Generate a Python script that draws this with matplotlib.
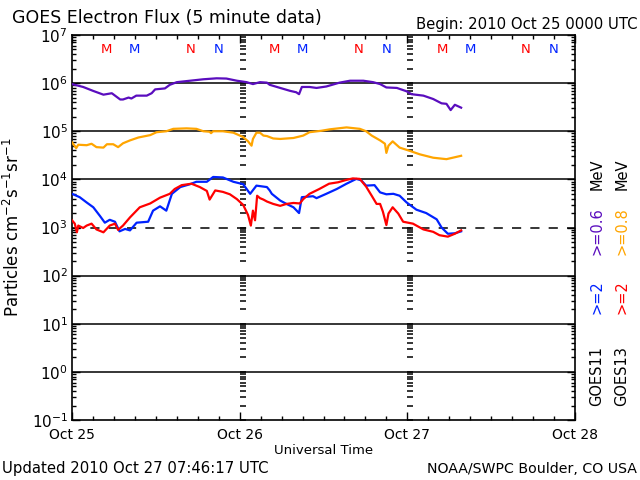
import numpy as np
import matplotlib
matplotlib.use("Agg")
import matplotlib.pyplot as plt
from matplotlib.ticker import LogLocator, FixedLocator, NullFormatter

# hours since 2010 Oct 25 00:00 UT, values are log10 of the flux
purple_h = [0, 1.6, 3.0, 4.5, 5.7, 6.9, 7.3, 8.1, 8.5, 9.2, 10.7, 11.4, 11.9, 13.3, 14.0, 15.0,
            16.9, 18.8, 20.7, 22.1, 23.6, 25.0, 25.9, 26.9, 27.9, 28.3, 29.8, 31.2, 32.1, 32.5,
            32.9, 34.0, 35.0, 36.4, 38.3, 39.8, 41.7, 43.1, 44.1, 45.0, 46.5, 47.9, 48.6, 50.3,
            51.7, 52.9, 53.6, 54.2, 54.8, 55.7]
purple_log = [5.98, 5.92, 5.84, 5.76, 5.79, 5.66, 5.66, 5.70, 5.68, 5.74, 5.74, 5.79, 5.87, 5.89,
              5.965, 6.02, 6.05, 6.08, 6.10, 6.095, 6.05, 6.02, 5.98, 6.02, 6.01, 5.965, 5.90,
              5.84, 5.81, 5.77, 5.92, 5.92, 5.90, 5.93, 6.01, 6.05, 6.05, 6.02, 5.98, 5.91, 5.90,
              5.83, 5.77, 5.74, 5.67, 5.58, 5.57, 5.44, 5.55, 5.49]

orange_h = [0, 0.6, 0.9, 2.1, 2.8, 3.5, 4.5, 5.0, 5.9, 6.6, 7.3, 8.3, 9.5, 11.2, 12.1, 13.5, 14.5,
            16.4, 17.8, 18.8, 19.7, 19.9, 20.2, 21.6, 23.1, 24.5, 25.2, 25.7, 25.9, 26.4, 26.9,
            27.4, 27.9, 28.8, 29.8, 31.7, 33.1, 34.0, 35.7, 36.9, 39.3, 41.2, 42.1, 42.9, 44.1,
            44.8, 45.0, 45.3, 45.9, 46.9, 48.4, 49.8, 51.7, 53.6, 54.5, 55.7]
orange_log = [4.77, 4.65, 4.72, 4.71, 4.74, 4.67, 4.66, 4.73, 4.73, 4.67, 4.75, 4.81, 4.87, 4.92,
              4.98, 5.00, 5.05, 5.06, 5.05, 5.00, 4.99, 4.96, 5.00, 5.00, 4.97, 4.88, 4.79, 4.70,
              4.84, 4.97, 4.97, 4.91, 4.90, 4.85, 4.84, 4.86, 4.91, 4.98, 5.01, 5.04, 5.08, 5.05,
              5.00, 4.91, 4.81, 4.74, 4.55, 4.70, 4.79, 4.66, 4.59, 4.52, 4.45, 4.42, 4.45, 4.49]

blue_h = [0, 1.1, 2.1, 3.05, 4.0, 4.7, 5.4, 6.15, 6.8, 7.6, 8.3, 9.25, 10.9, 11.6, 12.6, 13.5,
          14.3, 15.5, 16.9, 17.8, 19.3, 20.2, 21.6, 23.1, 24.5, 25.5, 26.4, 27.9, 28.3, 28.6,
          29.8, 30.7, 31.7, 32.5, 32.9, 34.5, 35.0, 36.4, 37.9, 39.3, 40.7, 41.4, 42.1, 43.3,
          44.1, 45.0, 46.0, 46.9, 47.9, 49.3, 50.7, 52.2, 52.9, 53.8, 54.8, 55.7]
blue_log = [3.70, 3.63, 3.52, 3.42, 3.24, 3.10, 3.16, 3.12, 2.92, 2.97, 2.94, 3.10, 3.12, 3.35,
            3.44, 3.35, 3.70, 3.84, 3.90, 3.95, 3.95, 4.05, 4.04, 3.95, 3.90, 3.70, 3.87, 3.84,
            3.77, 3.70, 3.56, 3.49, 3.42, 3.30, 3.63, 3.65, 3.61, 3.70, 3.80, 3.91, 4.01, 3.98,
            3.87, 3.88, 3.73, 3.69, 3.70, 3.66, 3.52, 3.37, 3.30, 3.17, 3.00, 2.87, 2.88, 2.92]

red_h = [0, 0.4, 0.7, 0.9, 1.6, 2.1, 2.8, 3.5, 4.5, 5.4, 6.15, 6.6, 7.3, 8.3, 9.7, 11.2, 12.6,
         14.0, 14.7, 15.7, 17.1, 18.3, 19.3, 19.7, 20.5, 21.6, 22.6, 23.6, 24.5, 25.2, 25.6,
         25.9, 26.2, 26.5, 26.9, 27.4, 27.9, 28.8, 29.8, 30.7, 31.7, 32.6, 33.1, 34.0, 35.4,
         36.8, 38.1, 39.3, 40.2, 41.2, 42.1, 42.9, 43.6, 44.1, 44.5, 45.0, 45.3, 45.9, 46.7,
         47.4, 48.8, 50.3, 51.7, 52.6, 53.8, 54.8, 55.7]
red_log = [3.15, 3.08, 2.90, 3.04, 2.99, 3.04, 3.08, 2.96, 2.90, 3.04, 3.08, 2.95, 3.04, 3.21,
           3.42, 3.50, 3.62, 3.70, 3.80, 3.88, 3.91, 3.84, 3.76, 3.58, 3.77, 3.74, 3.69, 3.59,
           3.47, 3.26, 3.04, 3.35, 3.15, 3.66, 3.61, 3.58, 3.54, 3.49, 3.45, 3.49, 3.51, 3.50,
           3.59, 3.70, 3.80, 3.91, 3.94, 3.99, 4.02, 4.01, 3.85, 3.66, 3.49, 3.49, 3.33, 3.05,
           3.29, 3.42, 3.29, 3.12, 3.08, 2.96, 2.91, 2.84, 2.81, 2.87, 2.94]

day_labels = ["Oct 25", "Oct 26", "Oct 27", "Oct 28"]
# local midnight (M) and noon (N) for GOES13 (red) and GOES11 (blue), UT hours
m13_hours = [5, 29, 53]
m11_hours = [9, 33, 57]
n13_hours = [17, 41, 65]
n11_hours = [21, 45, 69]

PURPLE = "#5a0dbe"
ORANGE = "#ffa500"
BLUE = "#0022ff"
RED = "#ff0000"

plt.rcParams["font.family"] = "DejaVu Sans"

fig = plt.figure(figsize=(6.4, 4.8), dpi=100)
ax = fig.add_axes([72 / 640, 1 - 420 / 480, (575 - 72) / 640, (420 - 35) / 480])

ax.set_yscale("log")
ax.set_xlim(0, 72)
ax.set_ylim(1e-1, 1e7)

# decade lines, 10^3 dashed
for p in [0, 1, 2, 4, 5, 6]:
    ax.axhline(10.0 ** p, color="k", lw=1.1, zorder=1)
ax.axhline(1e3, color="k", lw=1.1, ls=(0, (6, 6)), zorder=1)

# log tick marks inside the plot at each day boundary
minor_vals = [m * 10.0 ** p for p in range(-1, 7) for m in range(1, 10)]
for d in [24, 48]:
    ax.plot([d + 0.45] * len(minor_vals), minor_vals, ls="none", marker="_",
            ms=5, mew=1.1, color="k", zorder=2)

ax.plot(purple_h, 10 ** np.array(purple_log), color=PURPLE, lw=1.6, zorder=3)
ax.plot(orange_h, 10 ** np.array(orange_log), color=ORANGE, lw=1.6, zorder=3)
ax.plot(blue_h, 10 ** np.array(blue_log), color=BLUE, lw=1.6, zorder=3)
ax.plot(red_h, 10 ** np.array(red_log), color=RED, lw=1.6, zorder=4)

# M / N markers
for hrs, lab, col in [(m13_hours, "M", RED), (m11_hours, "M", BLUE),
                      (n13_hours, "N", RED), (n11_hours, "N", BLUE)]:
    for h in hrs:
        ax.text(h, 0.962, lab, color=col, fontsize=9.5, ha="center", va="center",
                transform=ax.get_xaxis_transform())

# axes ticks
ax.xaxis.set_major_locator(FixedLocator([0, 24, 48, 72]))
ax.xaxis.set_minor_locator(FixedLocator(np.arange(0, 73, 3)))
ax.set_xticklabels(day_labels, fontsize=10)
ax.yaxis.set_major_locator(LogLocator(base=10, numticks=20))
ax.yaxis.set_minor_locator(LogLocator(base=10, subs=np.arange(2, 10), numticks=20))
ax.yaxis.set_minor_formatter(NullFormatter())
ax.tick_params(axis="both", which="both", direction="in", top=True, right=True,
               width=1, colors="k")
ax.tick_params(axis="x", which="major", length=6, pad=6)
ax.tick_params(axis="x", which="minor", length=3)
ax.tick_params(axis="y", which="major", length=6, labelsize=11, pad=3)
ax.tick_params(axis="y", which="minor", length=3)
for s in ax.spines.values():
    s.set_linewidth(1.2)

ax.set_xlabel("Universal Time", fontsize=9.5, labelpad=1)
ax.set_ylabel("Particles cm$^{-2}$s$^{-1}$sr$^{-1}$", fontsize=12, labelpad=6)

fig.text(12 / 640, 1 - 18 / 480, "GOES Electron Flux (5 minute data)", fontsize=12.5,
         ha="left", va="center")
fig.text(637 / 640, 1 - 25 / 480, "Begin: 2010 Oct 25 0000 UTC", fontsize=10.7,
         ha="right", va="center")
fig.text(2 / 640, 1 - 469 / 480, "Updated 2010 Oct 27 07:46:17 UTC", fontsize=10.7,
         ha="left", va="center")
fig.text(637 / 640, 1 - 469 / 480, "NOAA/SWPC Boulder, CO USA", fontsize=10.2,
         ha="right", va="center")

# right side legend, rotated
leg = [(597, 376, "GOES11", "k"), (597, 297, ">=2", BLUE), (597, 231, ">=0.6", PURPLE),
       (597, 174, "MeV", "k"),
       (622, 376, "GOES13", "k"), (622, 297, ">=2", RED), (622, 231, ">=0.8", ORANGE),
       (622, 174, "MeV", "k")]
for x, y, s, c in leg:
    fig.text(x / 640, 1 - y / 480, s, color=c, fontsize=10.5, rotation=90,
             ha="center", va="center")

fig.savefig("out.png", dpi=100)
